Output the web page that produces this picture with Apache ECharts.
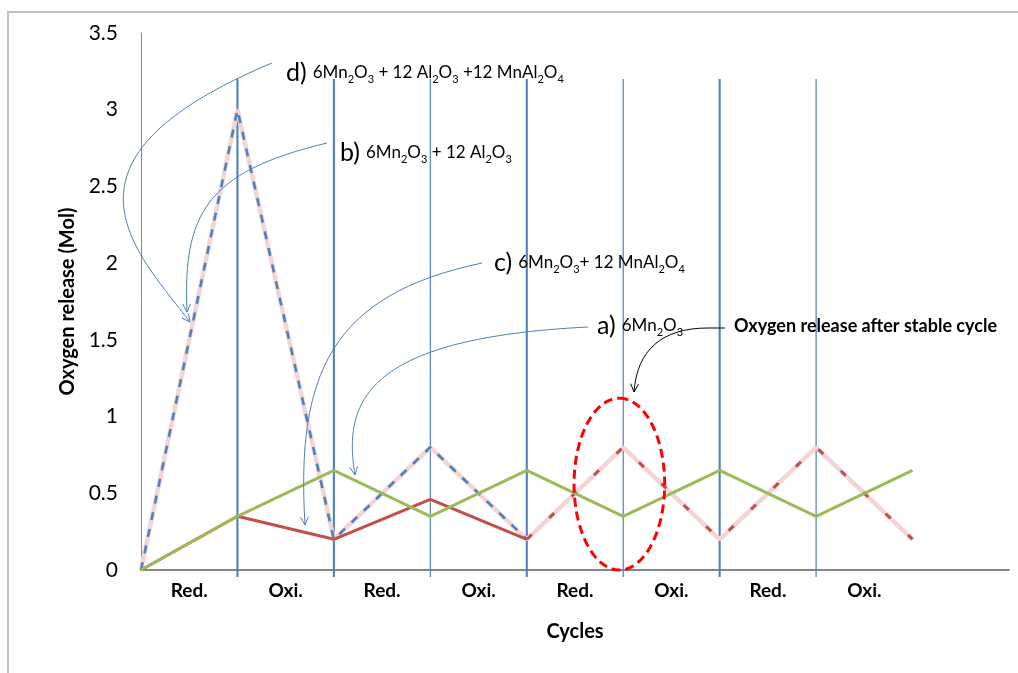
<!DOCTYPE html>
<html>
<head>
<meta charset="utf-8">
<script src="https://cdn.jsdelivr.net/npm/echarts@6/dist/echarts.min.js"></script>
<style>html,body{margin:0;padding:0;background:#fff}#c{width:1018px;height:673px}</style>
</head>
<body>
<div id="c"></div>
<script>
// ---- data ----
var cycleLabels = ['Red.', 'Oxi.', 'Red.', 'Oxi.', 'Red.', 'Oxi.', 'Red.', 'Oxi.'];
var stepIndex = [0, 1, 2, 3, 4, 5, 6, 7, 8];
var seriesA = [0, 0.35, 0.65, 0.35, 0.65, 0.35, 0.65, 0.35, 0.65];          // a) 6Mn2O3
var seriesB = [0, 3.0, 0.2, 0.8, 0.2, 0.8, 0.2, 0.8, 0.2];                 // b) 6Mn2O3 + 12 Al2O3
var seriesC = [0, 0.35, 0.2, 0.46, 0.2, 0.8, 0.2, 0.8, 0.2];               // c) 6Mn2O3 + 12 MnAl2O4
var seriesD = [0, 3.0, 0.2, 0.8, 0.2, 0.8, 0.2, 0.8, 0.2];                 // d) 6Mn2O3 + 12 Al2O3 + 12 MnAl2O4
var thickDividers = [1, 2, 4, 6];
var thinDividers = [3, 5, 7];
var dividerTop = 3.2, dividerBottom = -0.045;
var yTicks = [0, 0.5, 1, 1.5, 2, 2.5, 3, 3.5];

var FONT = 'Lato, "Open Sans", sans-serif';

function pairs(vals, from, to) {
  var out = [];
  for (var i = from; i <= to; i++) out.push([stepIndex[i], vals[i]]);
  return out;
}
var dividerData = thickDividers.map(function (x) { return [x, 1]; })
  .concat(thinDividers.map(function (x) { return [x, 0]; }));

var chart = echarts.init(document.getElementById('c'));
var option = {
  animation: false,
  backgroundColor: '#fff',
  grid: { left: 141, right: 9, top: 33, bottom: 103, containLabel: false },
  xAxis: {
    type: 'value', min: 0, max: 9, interval: 1,
    name: 'Cycles', nameLocation: 'middle', nameGap: 52,
    nameTextStyle: { fontFamily: FONT, fontWeight: 'bold', fontSize: 20, color: '#000' },
    axisLine: { show: true, lineStyle: { color: '#868686', width: 2 } },
    axisTick: { show: false },
    splitLine: { show: false },
    axisLabel: {
      customValues: cycleLabels.map(function (_, i) { return i + 0.5; }),
      formatter: function (v) { return cycleLabels[Math.floor(v)] || ''; },
      fontFamily: FONT, fontWeight: 'bold', fontSize: 19, color: '#000', margin: 11
    }
  },
  yAxis: {
    type: 'value', min: 0, max: 3.5, interval: 0.5,
    name: 'Oxygen release (Mol)', nameLocation: 'middle', nameGap: 59, nameRotate: 90,
    nameTextStyle: { fontFamily: FONT, fontWeight: 'bold', fontSize: 20, color: '#000' },
    axisLine: { show: true, lineStyle: { color: '#868686', width: 1 } },
    axisTick: { show: false },
    splitLine: { show: false },
    axisLabel: { fontFamily: FONT, fontSize: 21, color: '#000', margin: 23,
      customValues: yTicks, formatter: function (v) { return String(v); } }
  },
  series: [
    { type: 'custom', data: dividerData, z: 1, silent: true, clip: false,
      encode: { x: 0, y: 1 },
      renderItem: function (params, api) {
        var x = api.value(0);
        var p0 = api.coord([x, dividerBottom]);
        var p1 = api.coord([x, dividerTop]);
        return { type: 'line', shape: { x1: p0[0], y1: p0[1], x2: p1[0], y2: p1[1] },
          style: { stroke: '#4f81bd', lineWidth: api.value(1) ? 2.1 : 1.2 } };
      } },
    { name: 'b', type: 'line', data: pairs(seriesB, 0, 8), symbol: 'none', z: 2,
      lineStyle: { color: '#f2d5d4', width: 4.5 } },
    { name: 'd', type: 'line', data: pairs(seriesD, 0, 4), symbol: 'none', z: 3,
      lineStyle: { color: '#4f81bd', width: 2.6, type: [8, 9] } },
    { name: 'c-dash', type: 'line', data: pairs(seriesC, 4, 8), symbol: 'none', z: 3,
      lineStyle: { color: '#c0504d', width: 3, type: [7, 24] } },
    { name: 'c', type: 'line', data: pairs(seriesC, 0, 4), symbol: 'none', z: 4,
      lineStyle: { color: '#c0504d', width: 3 } },
    { name: 'a', type: 'line', data: pairs(seriesA, 0, 8), symbol: 'none', z: 5,
      lineStyle: { color: '#9bbb59', width: 3 } }
  ]
};
chart.setOption(option);

// ---- annotations ----
var rich = {
  L: { fontFamily: FONT, fontSize: 25, color: '#000', verticalAlign: 'bottom', padding: [0, 6, 0, 0] },
  n: { fontFamily: FONT, fontSize: 17, color: '#000', verticalAlign: 'bottom', padding: [0, 0, 4, 0] },
  s: { fontFamily: FONT, fontSize: 11, color: '#000', verticalAlign: 'bottom', padding: [0, 0, 0, 0] }
};
function label(x, y, txt) {
  return { type: 'text', x: x, y: y, z: 50,
    style: { text: txt, rich: rich, verticalAlign: 'bottom', align: 'left' } };
}
function curve(p0, c1, c2, p1, color) {
  var ang = Math.atan2(p1[1] - c2[1], p1[0] - c2[0]);
  var L = 9, a = 0.45;
  var h1 = [p1[0] - L * Math.cos(ang - a), p1[1] - L * Math.sin(ang - a)];
  var h2 = [p1[0] - L * Math.cos(ang + a), p1[1] - L * Math.sin(ang + a)];
  return [
    { type: 'bezierCurve', z: 40, silent: true,
      shape: { x1: p0[0], y1: p0[1], cpx1: c1[0], cpy1: c1[1], cpx2: c2[0], cpy2: c2[1], x2: p1[0], y2: p1[1] },
      style: { stroke: color, lineWidth: 1, fill: null } },
    { type: 'polyline', z: 40, silent: true,
      shape: { points: [h1, p1, h2] }, style: { stroke: color, lineWidth: 1, fill: null } }
  ];
}
var blue = '#4f81bd';
var g = [];
g.push({ type: 'rect', silent: true, z: 0, shape: { x: 8, y: 12, width: 1040, height: 700 },
  style: { fill: null, stroke: '#c0c0c0', lineWidth: 2 } });
g = g.concat(curve([272, 63], [40, 160], [135, 250], [190, 322], blue));
g = g.concat(curve([327, 143], [205, 172], [183, 215], [187, 312], blue));
g = g.concat(curve([482, 263], [330, 295], [296, 375], [305, 525], blue));
g = g.concat(curve([588, 327], [370, 338], [342, 398], [355, 475], blue));
g.push({ type: 'line', z: 40, silent: true, shape: { x1: 725, y1: 328, x2: 708, y2: 328 }, style: { stroke: '#000', lineWidth: 1 } });
g = g.concat(curve([708, 328], [662, 328], [637, 350], [634, 392], '#000'));
g.push(label(286, 85, '{L|d)}{n|6Mn}{s|2}{n|O}{s|3}{n| + 12 Al}{s|2}{n|O}{s|3}{n| +12 MnAl}{s|2}{n|O}{s|4}'));
g.push(label(340, 165, '{L|b)}{n|6Mn}{s|2}{n|O}{s|3}{n| + 12 Al}{s|2}{n|O}{s|3}'));
g.push(label(494, 275, '{L|c)}{n|6Mn}{s|2}{n|O}{s|3}{n|+ 12 MnAl}{s|2}{n|O}{s|4}'));
g.push(label(597, 338, '{L|a)}{n|6Mn}{s|2}{n|O}{s|3}'));
g.push({ type: 'text', x: 734, y: 326, z: 50,
  style: { text: 'Oxygen release after stable cycle', fontFamily: FONT, fontWeight: 'bold', fontSize: 18,
    fill: '#000', verticalAlign: 'middle', align: 'left' } });
// red dashed ellipse around the stable cycle peak
var ctr = chart.convertToPixel({ gridIndex: 0 }, [4.96, 0.56]);
var topP = chart.convertToPixel({ gridIndex: 0 }, [4.96, 1.12]);
var side = chart.convertToPixel({ gridIndex: 0 }, [5.43, 0.56]);
var rx = side[0] - ctr[0], ry = ctr[1] - topP[1];
var pts = [];
for (var k = 0; k < 120; k++) {
  var t = -Math.PI / 2 + k / 120 * Math.PI * 2;
  pts.push([ctr[0] + rx * Math.cos(t), ctr[1] + ry * Math.sin(t)]);
}
g.push({ type: 'polygon', z: 60, silent: true, shape: { points: pts },
  style: { fill: null, stroke: '#ff0000', lineWidth: 3, lineDash: [9, 5] } });
chart.setOption({ graphic: g });
</script>
</body>
</html>
